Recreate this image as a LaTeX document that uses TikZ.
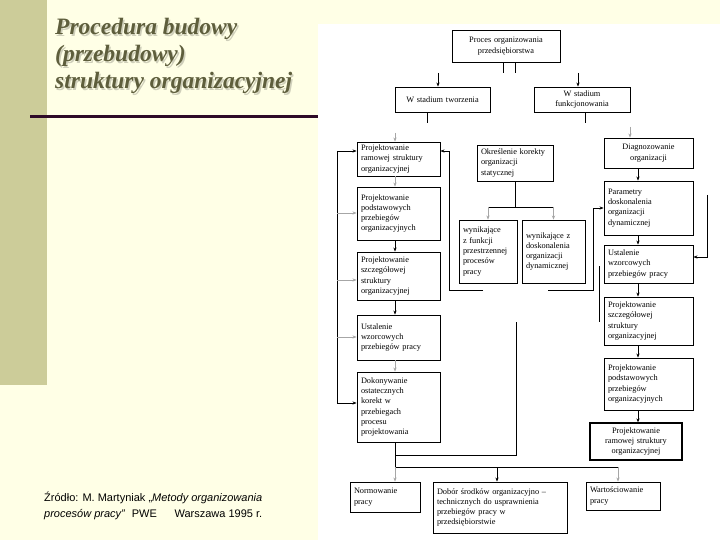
\documentclass[tikz,border=0pt]{standalone}
\usepackage{fontspec}
\setmainfont{Liberation Serif}
\newfontfamily\arialf{Liberation Sans}
\usetikzlibrary{arrows.meta}
\definecolor{cream}{HTML}{FFFFE6}
\definecolor{khaki}{HTML}{CCCC99}
\definecolor{titlec}{HTML}{5E5E3C}
\definecolor{shadowc}{HTML}{CFCFBA}
\definecolor{rulec}{HTML}{2E0A28}
\newcommand\bx[8][]{%
  \pgfmathsetmacro\bxw{#5-#3}\pgfmathsetmacro\bxh{#6-#4}\pgfmathsetmacro\bxt{#5-#3-8}%
  \node[box,#1,minimum width=\bxw pt,minimum height=\bxh pt,text width=\bxt pt,align=#7]
    (#2) at ({(#3+#5)/2},{(#4+#6)/2}) {#8};}
\begin{document}
\begin{tikzpicture}[x=1pt,y=-1pt,
  box/.style={draw,line width=0.9pt,inner xsep=4pt,inner ysep=1pt,fill=white,
    font=\fontsize{8.3}{10.3}\selectfont},
  arr/.style={-{Stealth[length=4pt,width=3.2pt]},line width=0.7pt},
  garr/.style={arr,draw=gray!70,-{Stealth[length=4pt,width=3.2pt,fill=gray!70]}},
  ln/.style={line width=0.7pt},
  ttl/.style={anchor=base west,inner sep=0pt,font=\fontsize{23.5}{28}\selectfont\bfseries\itshape}]
\useasboundingbox (0,0) rectangle (720,540);
\fill[cream] (0,0) rectangle (720,540);
\fill[khaki] (0,0) rectangle (47,385);
\fill[white] (318,24) rectangle (720,540);
\draw[rulec,line width=3pt] (30,117) -- (318,117);
% title
\foreach \t/\yy in {Procedura budowy/35,(przebudowy)/62,struktury organizacyjnej/89}{
  \node[ttl,text=shadowc] at (56.5,\yy+1.5) {\t};
  \node[ttl,text=titlec] at (55,\yy) {\t};}
% source
\node[anchor=base west,inner sep=0pt,font=\arialf\fontsize{11}{15}\selectfont] (src1) at (44,501)
  {Źródło: M. Martyniak „\textit{Metody organizowania}};
\node[anchor=base west,inner sep=0pt,font=\arialf\fontsize{11}{15}\selectfont] (src2) at (44,517)
  {\textit{procesów pracy”}\hspace{0.6em}PWE\hspace{1.6em}Warszawa 1995 r.};
% boxes
\bx{top}{452}{30}{560}{62}{center}{Proces organizowania\\przedsiębiorstwa}
\bx{ws1}{395}{87}{490}{112}{center}{W stadium tworzenia}
\bx{ws2}{534}{87}{630}{112}{center}{W stadium\\funkcjonowania}
\bx{L1}{357}{142}{440}{176}{left}{Projektowanie\\ramowej struktury\\organizacyjnej}
\bx{L2}{357}{187}{440}{240}{left}{Projektowanie\\podstawowych\\przebiegów\\organizacyjnych}
\bx{L3}{357}{252}{440}{300}{left}{Projektowanie\\szczegółowej\\struktury\\organizacyjnej}
\bx{L4}{357}{315}{440}{360}{left}{Ustalenie\\wzorcowych\\przebiegów pracy}
\bx{L5}{357}{372}{440}{442}{left}{Dokonywanie\\ostatecznych\\korekt w\\przebiegach\\procesu\\projektowania}
\bx{okr}{477}{145}{553}{181}{left}{Określenie korekty\\organizacji\\statycznej}
\bx{wf}{459}{220}{517}{283}{left}{wynikające\\z funkcji\\przestrzennej\\procesów\\pracy}
\bx{wd}{522}{220}{585}{283}{left}{wynikające z\\doskonalenia\\organizacji\\dynamicznej}
\bx{R1}{604}{138}{693}{168}{center}{Diagnozowanie\\organizacji}
\bx{R2}{604}{181}{693}{235}{left}{Parametry\\doskonalenia\\organizacji\\dynamicznej}
\bx{R3}{604}{245}{693}{283}{left}{Ustalenie\\wzorcowych\\przebiegów pracy}
\bx{R4}{604}{297}{693}{345}{left}{Projektowanie\\szczegółowej\\struktury\\organizacyjnej}
\bx{R5}{604}{358}{693}{410}{left}{Projektowanie\\podstawowych\\przebiegów\\organizacyjnych}
\bx[line width=1.3pt]{R6}{590}{423}{682}{460}{center}{Projektowanie\\ramowej struktury\\organizacyjnej}
\bx{B1}{350}{482}{420}{512}{left}{Normowanie\\pracy}
\bx{B2}{433}{482}{567}{533}{left}{Dobór środków organizacyjno –\\technicznych do usprawnienia\\przebiegów pracy w\\przedsiębiorstwie}
\bx{B3}{586}{482}{660}{510}{left}{Wartościowanie\\pracy}
% connectors: top
\draw[ln] (503,0 |- top.south) -- (503,73);
\draw[ln] (515,0 |- top.south) -- (515,73);
\draw[arr] (438,73) -- (438,0 |- ws1.north);
\draw[arr] (578,73) -- (578,0 |- ws2.north);
\draw[ln] (427,0 |- ws1.south) -- (427,123);
\draw[ln] (585,0 |- ws2.south) -- (585,123);
\draw[garr] (395,133) -- (395,0 |- L1.north);
\draw[garr] (630,127) -- (630,0 |- R1.north);
% left column
\draw[garr] (395,0 |- L1.south) -- (395,0 |- L2.north);
\draw[arr] (395,0 |- L2.south) -- (395,0 |- L3.north);
\draw[arr] (395,0 |- L3.south) -- (395,0 |- L4.north);
\draw[garr] (395,0 |- L4.south) -- (395,0 |- L5.north);
% left loop
\draw[arr] (337,151) -- (L1.west |- 0,151);
\draw[arr] (337,151) -- (337,403) -- (L5.west |- 0,403);
\draw[garr] (337,213) -- (L2.west |- 0,213);
\draw[garr] (337,280) -- (L3.west |- 0,280);
\draw[garr] (337,337) -- (L4.west |- 0,337);
% frame around middle
\draw[arr] (483,290) -- (449,290) -- (449,151) -- (L1.east |- 0,151);
\draw[arr] (548,290) -- (593,290) -- (593,208) -- (R2.west |- 0,208);
% middle
\draw[ln] (okr.south) -- (okr.south |- 0,207);
\draw[ln] (wf.north |- 0,207) -- (wd.north |- 0,207);
\draw[garr] (wf.north |- 0,207) -- (wf.north);
\draw[garr] (wd.north |- 0,207) -- (wd.north);
% right column
\draw[arr] (638,0 |- R1.south) -- (638,0 |- R2.north);
\draw[arr] (638,0 |- R2.south) -- (638,0 |- R3.north);
\draw[arr] (638,0 |- R3.south) -- (638,0 |- R4.north);
\draw[arr] (638,0 |- R4.south) -- (638,0 |- R5.north);
\draw[arr] (638,0 |- R5.south) -- (638,0 |- R6.north);
\draw[arr] (707,195) -- (707,257) -- (R3.east |- 0,257);
\draw[ln] (599,266) -- (599,322);
% lower middle
\draw[ln] (516,322) -- (516,455) -- (395,455);
% bottom bus
\draw[ln] (395,0 |- L5.south) -- (395,467);
\draw[ln] (395,467) -- (618,467);
\draw[garr] (395,467) -- (395,0 |- B1.north);
\draw[arr] (497,467) -- (497,0 |- B2.north);
\draw[garr] (618,467) -- (618,0 |- B3.north);
\end{tikzpicture}
\end{document}
